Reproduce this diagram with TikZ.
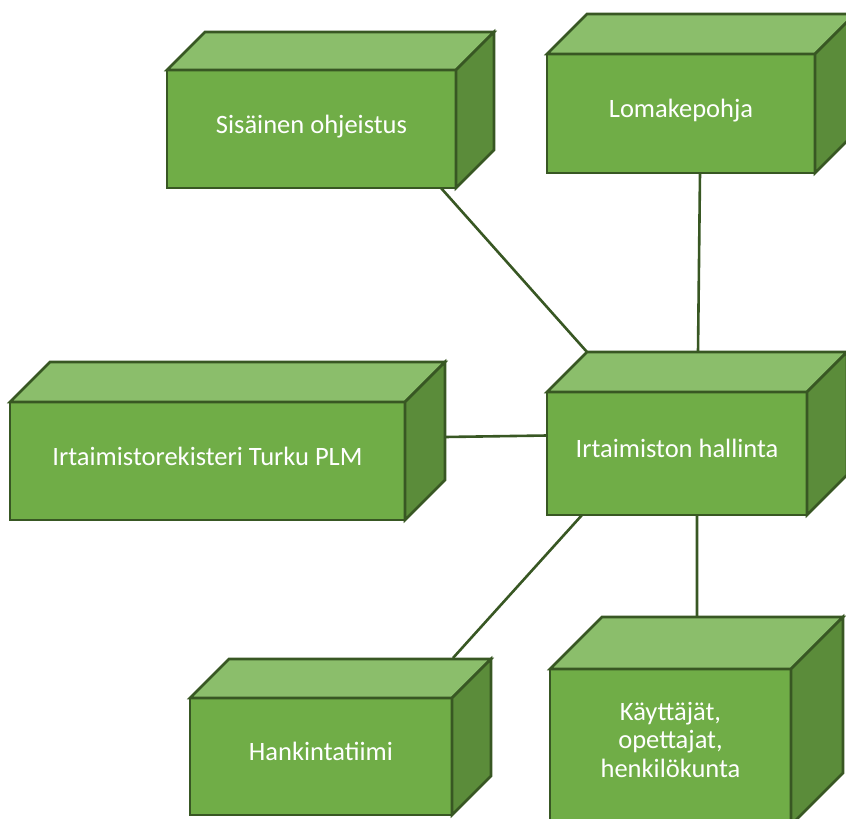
\documentclass[tikz,border=0pt]{standalone}
\usepackage{fontspec}
\setmainfont{Carlito}
\usetikzlibrary{calc}

\definecolor{front}{HTML}{70AD47}
\definecolor{lid}{HTML}{8BBE6B}
\definecolor{flank}{HTML}{5B8C3A}
\definecolor{edge}{HTML}{385723}

\begin{document}
\begin{tikzpicture}[x=1pt,y=-1pt,line join=miter]

  \tikzstyle{cube}=[draw=edge,fill=front,line width=2.6pt,outer sep=0pt,
                    inner sep=0pt,text=white,align=center,
                    text height=20pt,text depth=12pt,
                    font=\fontsize{26.5}{28.5}\selectfont]
  \tikzstyle{lidface}=[draw=edge,fill=lid,line width=2.6pt]
  \tikzstyle{flankface}=[draw=edge,fill=flank,line width=2.6pt]
  \tikzstyle{link}=[draw=edge,line width=2.6pt]

  \useasboundingbox (0,0) rectangle (846,819);

  \node[cube,minimum width=289pt,minimum height=118pt] (sis) at (311.5,129)   {Sisäinen ohjeistus};
  \node[cube,minimum width=268pt,minimum height=119pt] (lom) at (681,113.5)   {Lomakepohja};
  \node[cube,minimum width=260pt,minimum height=123pt] (hal) at (677,453.5)   {Irtaimiston hallinta};
  \node[cube,minimum width=395pt,minimum height=118pt] (rek) at (207.5,461)   {Irtaimistorekisteri Turku PLM};
  \node[cube,minimum width=262pt,minimum height=117pt] (han) at (321,756.5)   {Hankintatiimi};
  \node[cube,minimum width=241pt,minimum height=156pt,text height=77pt,text depth=17pt]
       (kay) at (670.5,747) {Käyttäjät,\\opettajat,\\henkilökunta};

  % top and side faces of the boxes
  \foreach \n/\d in {sis/38,lom/40,hal/40,rek/40,han/39,kay/52}{
    \path[lidface] (\n.north west) -- ++(\d,-\d) -- ($(\n.north east)+(\d,-\d)$)
                   -- (\n.north east) -- cycle;
    \path[flankface] (\n.north east) -- ++(\d,-\d) -- ($(\n.south east)+(\d,-\d)$)
                   -- (\n.south east) -- cycle;
  }

  \path[link] ($(sis.south east)+(-15,0)$) -- ($(hal.north west)+(40,-40)$)
              ($(lom.south)+(19,0)$)       -- ($(hal.north)+(21,-40)$)
              ($(rek.east)+(40,-24)$)      -- ($(hal.west)+(0,-18)$)
              ($(hal.south west)+(35,0)$)  -- ($(han.north east)+(1,-40)$)
              ($(hal.south)+(20,0)$)       -- ($(kay.north)+(26.5,-52)$);
\end{tikzpicture}
\end{document}
